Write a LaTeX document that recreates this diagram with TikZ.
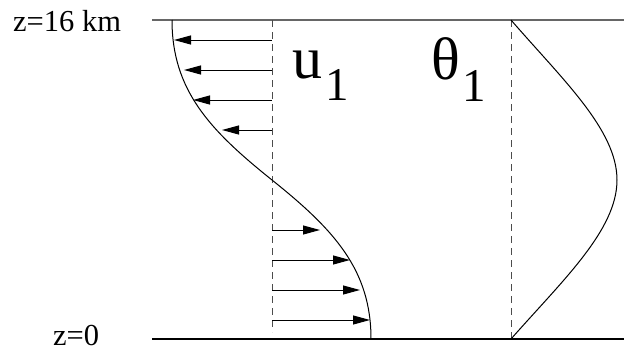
\documentclass[tikz,border=0pt]{standalone}
\usepackage{fontspec}
\setmainfont{Liberation Serif}
\usetikzlibrary{arrows.meta}
\begin{document}
\begin{tikzpicture}[x=1pt,y=-1pt,
  level/.style={line width=1.2pt},
  axisdash/.style={line width=0.9pt,draw=black!70,dash pattern=on 7pt off 5pt},
  profile/.style={line width=1pt},
  wind/.style={line width=1pt,-{Triangle[length=17pt,width=9pt]}},
  lbl/.style={inner sep=0pt,anchor=base west,font=\fontsize{30.5}{31}\selectfont},
  big/.style={inner sep=0pt,anchor=base west,font=\fontsize{60}{62}\selectfont},
  sub/.style={inner sep=0pt,anchor=base west,font=\fontsize{47}{48}\selectfont}]
\useasboundingbox (0,0) rectangle (624,351);
% levels
\coordinate (tl) at (152,20); \coordinate (tr) at (624,20);
\coordinate (bl) at (152,339); \coordinate (br) at (624,339);
\draw[level,draw=black!60] (tl) -- (tr);
\draw[level] (bl) -- (br);
\node[lbl] (ztop) at (13,31) {z=16 km};
\node[lbl] (zbot) at (53,345) {z=0};
% reference axes
\coordinate (ua) at (272,20); \coordinate (ub) at (272,332);
\coordinate (ta) at (511,20); \coordinate (tb) at (511,339);
\draw[axisdash] (ua) -- (ub);
\draw[axisdash] (ta) -- (tb);
% u profile
\draw[profile] (172,20) .. controls (172,90) and (209.5,130) .. (272,180)
  .. controls (334.5,230) and (371,270) .. (371,339);
% theta profile
\draw[profile] (ta) .. controls (563,80) and (617,130) .. (617,180)
  .. controls (617,230) and (563,280) .. (tb);
% wind arrows
\foreach \y/\x [count=\i] in {40/174,70/184,100/193,130/222,230/320,260/350,290/360,320/370}{
  \coordinate (s\i) at (272,\y);
  \coordinate (e\i) at (\x,\y);
  \draw[wind] (s\i) -- (e\i);
}
% labels
\node[big] (u) at (292,78) {u};
\node[sub] (u1) at (325,100) {1};
\node[big] (th) at (431,79) {θ};
\node[sub] (th1) at (462,101) {1};
\end{tikzpicture}
\end{document}
